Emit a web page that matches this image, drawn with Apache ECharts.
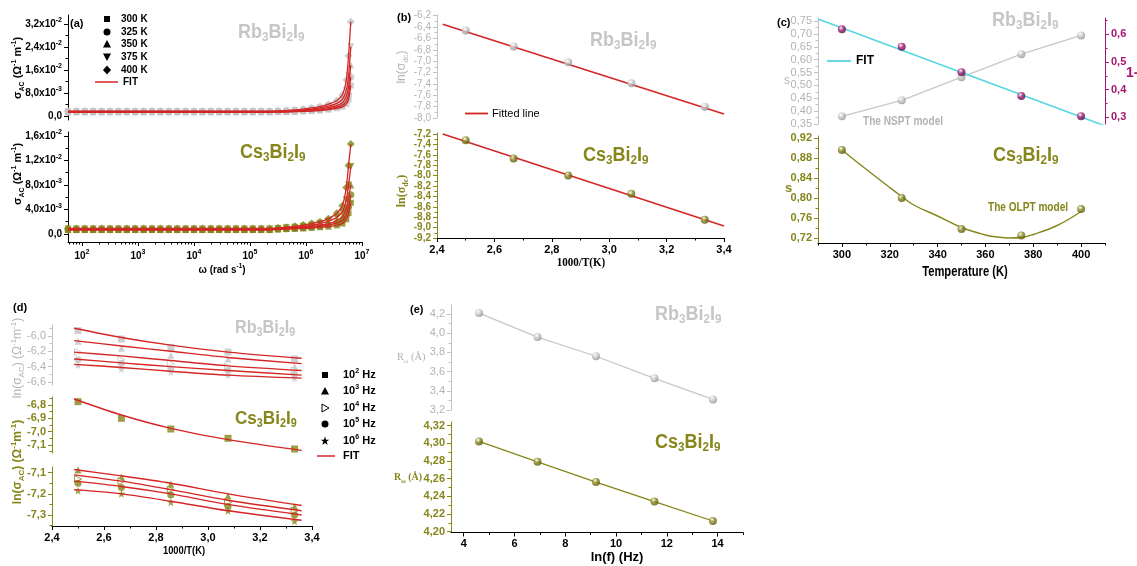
<!DOCTYPE html>
<html>
<head>
<meta charset="utf-8">
<title>Rb3Bi2I9 / Cs3Bi2I9</title>
<script src="https://cdn.jsdelivr.net/npm/echarts@6/dist/echarts.min.js"></script>
<style>
html,body{margin:0;padding:0;background:#ffffff;}
#chart{width:1137px;height:566px;}
</style>
</head>
<body>
<div id="chart"></div>
<script>
// ======================= DATA =======================
// (a) sigma_AC vs omega (sigma in units of 1e-3 ohm^-1 m^-1)
const A_TEMPS = ['300 K', '325 K', '350 K', '375 K', '400 K'];
const A_OMEGA = [56.2, 79.4, 112, 158, 224, 316, 447, 631, 891, 1259, 1778, 2512, 3548, 5012, 7079, 10000, 14125, 19953, 28184, 39811, 56234, 79433, 112202, 158489, 223872, 316228, 446684, 630957, 891251, 1258925, 1778279, 2511886, 3548134, 4466836, 5248075, 5754399, 6309573];
const A_RB_300 = [1.3,1.3,1.3,1.3,1.3, 1.3,1.3,1.3,1.3,1.3, 1.3,1.3,1.3,1.3,1.3, 1.3,1.3,1.3,1.3,1.3, 1.3,1.3,1.3,1.3,1.3, 1.35,1.4,1.5,1.6,1.7,1.9,2.2,2.7,3.2,4.2,5.8,10.6];
const A_RB_325 = [1.4,1.4,1.4,1.4,1.4, 1.4,1.4,1.4,1.4,1.4, 1.4,1.4,1.4,1.4,1.4, 1.4,1.4,1.4,1.4,1.4, 1.4,1.4,1.4,1.4,1.4, 1.45,1.5,1.6,1.7,1.9,2.1,2.5,3.1,3.8,5.2,7.5,13.5];
const A_RB_350 = [1.5,1.5,1.5,1.5,1.5, 1.5,1.5,1.5,1.5,1.5, 1.5,1.5,1.5,1.5,1.5, 1.5,1.5,1.5,1.5,1.5, 1.5,1.5,1.5,1.5,1.5, 1.55,1.6,1.7,1.9,2.1,2.4,2.9,3.6,4.6,6.8,10.2,17.7];
const A_RB_375 = [1.6,1.6,1.6,1.6,1.6, 1.6,1.6,1.6,1.6,1.6, 1.6,1.6,1.6,1.6,1.6, 1.6,1.6,1.6,1.6,1.6, 1.6,1.6,1.6,1.6,1.6, 1.65,1.75,1.9,2.1,2.4,2.8,3.4,4.4,5.8,9.0,14.0,24.1];
const A_RB_400 = [1.7,1.7,1.7,1.7,1.7, 1.7,1.7,1.7,1.7,1.7, 1.7,1.7,1.7,1.7,1.7, 1.7,1.7,1.7,1.7,1.7, 1.7,1.7,1.7,1.7,1.7, 1.8,1.9,2.1,2.4,2.8,3.3,4.1,5.4,7.4,12.5,21.0,32.8];
const A_CS_300 = [0.65,0.65,0.65,0.65,0.65, 0.65,0.65,0.65,0.65,0.65, 0.65,0.65,0.65,0.65,0.65, 0.65,0.65,0.65,0.65,0.65, 0.65,0.65,0.65,0.65,0.65, 0.75,0.8,0.85,0.9,1.0,1.1,1.2,1.4,1.7,2.4,3.4,5.1];
const A_CS_325 = [0.7,0.7,0.7,0.7,0.7, 0.7,0.7,0.7,0.7,0.7, 0.7,0.7,0.7,0.7,0.7, 0.7,0.7,0.7,0.7,0.7, 0.7,0.7,0.7,0.7,0.7, 0.8,0.85,0.9,1.0,1.1,1.25,1.45,1.8,2.2,3.2,4.4,6.4];
const A_CS_350 = [0.75,0.75,0.75,0.75,0.75, 0.75,0.75,0.75,0.75,0.75, 0.75,0.75,0.75,0.75,0.75, 0.75,0.75,0.75,0.75,0.75, 0.75,0.75,0.75,0.75,0.75, 0.85,0.9,1.0,1.1,1.25,1.45,1.7,2.2,2.8,4.2,5.8,8.0];
const A_CS_375 = [0.8,0.8,0.8,0.8,0.8, 0.8,0.8,0.8,0.8,0.8, 0.8,0.8,0.8,0.8,0.8, 0.8,0.8,0.8,0.8,0.8, 0.8,0.8,0.8,0.8,0.8, 0.9,1.0,1.1,1.25,1.45,1.7,2.1,2.7,3.6,5.6,8.0,11.0];
const A_CS_400 = [0.9,0.9,0.9,0.9,0.9, 0.9,0.9,0.9,0.9,0.9, 0.9,0.9,0.9,0.9,0.9, 0.9,0.9,0.9,0.9,0.9, 0.9,0.9,0.9,0.9,0.9, 1.0,1.1,1.25,1.45,1.7,2.0,2.5,3.4,4.6,7.6,11.2,14.7];

// (b) ln(sigma_dc) vs 1000/T
const B_X = [2.5, 2.667, 2.857, 3.077, 3.333];
const B_RB = [-6.46, -6.74, -7.02, -7.39, -7.80];
const B_CS = [-7.32, -7.67, -8.00, -8.35, -8.85];
const B_FIT_X = [2.42, 3.4];
const B_RB_FIT = [-6.35, -7.93];
const B_CS_FIT = [-7.20, -8.97];

// (c) s and 1-s vs temperature
const C_T = [300, 325, 350, 375, 400];
const C_RB_S = [0.380, 0.442, 0.532, 0.621, 0.694];
const C_RB_1MS = [0.618, 0.555, 0.463, 0.377, 0.304];
const C_FIT_T = [290, 410];
const C_FIT_1MS = [0.655, 0.269];
const C_CS_S = [0.896, 0.800, 0.738, 0.725, 0.778];
const C_CS_FIT_T = [300, 310, 320, 325, 330, 340, 350, 360, 365, 370, 375, 380, 390, 400];
const C_CS_FIT_S = [0.896, 0.858, 0.821, 0.803, 0.786, 0.764, 0.741, 0.726, 0.722, 0.720, 0.721, 0.727, 0.745, 0.773];

// (d) ln(sigma_AC) vs 1000/T at several frequencies
const D_FREQS = ['2', '3', '4', '5', '6'];
const D_X = [2.5, 2.667, 2.857, 3.077, 3.333];
const D_RB_1E2 = [-5.93, -6.04, -6.15, -6.21, -6.30];
const D_RB_1E3 = [-6.07, -6.16, -6.25, -6.30, -6.40];
const D_RB_1E4 = [-6.21, -6.31, -6.36, -6.40, -6.45];
const D_RB_1E5 = [-6.31, -6.36, -6.43, -6.45, -6.50];
const D_RB_1E6 = [-6.38, -6.43, -6.47, -6.51, -6.55];
const D_FIT_X = [2.485, 2.667, 2.857, 3.077, 3.36];
const D_RB_FIT_1E2 = [-5.90, -6.02, -6.12, -6.21, -6.29];
const D_RB_FIT_1E3 = [-6.06, -6.13, -6.20, -6.28, -6.36];
const D_RB_FIT_1E4 = [-6.21, -6.26, -6.32, -6.39, -6.45];
const D_RB_FIT_1E5 = [-6.30, -6.35, -6.40, -6.45, -6.51];
const D_RB_FIT_1E6 = [-6.37, -6.41, -6.46, -6.51, -6.55];
const D_CS_1E2 = [-6.775, -6.90, -6.98, -7.05, -7.13];
const D_CS_1E3 = [-7.087, -7.12, -7.155, -7.21, -7.26];
const D_CS_1E4 = [-7.13, -7.14, -7.18, -7.24, -7.28];
const D_CS_1E5 = [-7.15, -7.17, -7.205, -7.26, -7.30];
const D_CS_1E6 = [-7.185, -7.20, -7.24, -7.28, -7.33];
const D_CS_FIT_1E2 = [-6.755, -6.875, -6.975, -7.06, -7.14];
const D_CS_FIT_1E3 = [-7.085, -7.115, -7.15, -7.20, -7.255];
const D_CS_FIT_1E4 = [-7.11, -7.14, -7.18, -7.23, -7.28];
const D_CS_FIT_1E5 = [-7.14, -7.165, -7.20, -7.25, -7.30];
const D_CS_FIT_1E6 = [-7.18, -7.20, -7.235, -7.28, -7.325];

// (e) R_omega vs ln(f)
const E_LNF = [4.605, 6.908, 9.210, 11.513, 13.816];
const E_RB = [4.21, 3.96, 3.76, 3.53, 3.31];
const E_CS = [4.302, 4.279, 4.256, 4.234, 4.212];

// ======================= STYLE =======================
const FONT = '"Liberation Sans", Arial, sans-serif';
const SERIF = '"Liberation Serif", "Times New Roman", serif';
const GREY = '#c3c3c3', GREYT = '#b3b3b3', OLIVE = '#86861b', OLIVE_D = '#55550a';
const RED = '#d42626', CYAN = '#55d6e4', PURPLE = '#a3176f', BLACK = '#111111';

function rng(a, b, s, d) { const out = []; for (let v = a; v <= b + s / 1000; v += s) out.push(+v.toFixed(d)); return out; }
function comma(d) { return v => v.toFixed(d).replace('.', ','); }
function pts(xs, ys) { return xs.map((x, i) => [x, ys[i]]); }
function sphere(base, dark) {
  return new echarts.graphic.RadialGradient(0.38, 0.32, 0.72, [
    { offset: 0, color: '#ffffff' }, { offset: 0.45, color: base }, { offset: 1, color: dark }]);
}

const grids = [
  { left: 68, top: 15, width: 294, height: 105 },   // 0 a top
  { left: 68, top: 132, width: 294, height: 110 },  // 1 a bottom
  { left: 437, top: 15, width: 287, height: 103 },  // 2 b top
  { left: 437, top: 133, width: 287, height: 105 }, // 3 b bottom
  { left: 818, top: 18, width: 287, height: 106 },  // 4 c top
  { left: 818, top: 136, width: 287, height: 107 }, // 5 c bottom
  { left: 52, top: 325, width: 260, height: 60 },   // 6 d top
  { left: 52, top: 397, width: 260, height: 56 },   // 7 d middle
  { left: 52, top: 467, width: 260, height: 59 },   // 8 d bottom
  { left: 451, top: 305, width: 292, height: 105 }, // 9 e top
  { left: 451, top: 422, width: 292, height: 110.5 }// 10 e bottom
].map(g => Object.assign({ outerBoundsMode: 'none', containLabel: false }, g));

const xAxes = [], yAxes = [], series = [], graphics = [];

function mkAxis(list, o) {
  const type = o.type || 'value';
  if (o.show === false) {
    list.push({ type, gridIndex: o.grid, min: o.min, max: o.max, show: false, position: o.pos,
      axisLine: { onZero: false }, splitLine: { show: false } });
    return list.length - 1;
  }
  const main = {
    type, gridIndex: o.grid, min: o.min, max: o.max, position: o.pos,
    axisLine: { show: true, onZero: false, lineStyle: { color: o.color, width: 1 } },
    axisTick: { show: true, customValues: o.majors, length: 4, lineStyle: { color: o.color, width: 1 } },
    axisLabel: { show: true, customValues: o.majors, formatter: o.fmt, color: o.lc || o.color,
      fontSize: o.fs || 10, fontWeight: o.bold ? 'bold' : 'normal', fontFamily: o.ff || FONT,
      margin: o.margin || 6, rich: o.rich },
    splitLine: { show: false }
  };
  if (type === 'log') main.logBase = 10;
  list.push(main);
  const idx = list.length - 1;
  if (o.minors) {
    const mn = { type, gridIndex: o.grid, min: o.min, max: o.max, position: o.pos,
      axisLine: { show: false, onZero: false },
      axisTick: { show: true, customValues: o.minors, length: 2.5, lineStyle: { color: o.color, width: 1 } },
      axisLabel: { show: false }, splitLine: { show: false } };
    if (type === 'log') mn.logBase = 10;
    list.push(mn);
  }
  return idx;
}

function richSet(size, color, bold, ff) {
  const w = bold ? 'bold' : 'normal', f = ff || FONT;
  const s = Math.round(size * 0.65);
  return {
    m: { fontSize: size, fill: color, color, fontWeight: w, fontFamily: f, lineHeight: size + 4 },
    b: { fontSize: s, fill: color, color, fontWeight: w, fontFamily: f, lineHeight: s, verticalAlign: 'bottom' },
    p: { fontSize: s, fill: color, color, fontWeight: w, fontFamily: f, lineHeight: s, verticalAlign: 'top' }
  };
}

// ---- axes ----
const A_XMAJ = [1e2, 1e3, 1e4, 1e5, 1e6, 1e7];
const A_XMIN = [];
for (let n = 1; n <= 6; n++) for (let k = 2; k <= 9; k++) { const v = k * Math.pow(10, n); if (v >= 56.3 && v < 1e7) A_XMIN.push(v); }
const expFmt = v => '{m|10}{p|' + Math.round(Math.log10(v)) + '}';
const sciFmt = v => {
  if (Math.abs(v) < 1e-9) return '{m|0,0}';
  const e = v >= 10 ? -2 : -3;
  const mant = v * Math.pow(10, -3 - e);
  return '{m|' + mant.toFixed(1).replace('.', ',') + 'x10}{p|' + e + '}';
};
const richA = { m: { fontSize: 10, fontWeight: 'bold', color: '#000', fontFamily: FONT, lineHeight: 14 },
  p: { fontSize: 7, fontWeight: 'bold', color: '#000', fontFamily: FONT, lineHeight: 7, verticalAlign: 'top' } };

const X = {}, Y = {};
X.aT = mkAxis(xAxes, { grid: 0, type: 'log', min: 56.23, max: 1e7, show: false });
X.aB = mkAxis(xAxes, { grid: 1, type: 'log', min: 56.23, max: 1e7, pos: 'bottom', majors: A_XMAJ, minors: A_XMIN,
  color: '#000', bold: true, fmt: expFmt, rich: richA, margin: 7 });
X.bT = mkAxis(xAxes, { grid: 2, min: 2.4, max: 3.4, show: false });
X.bB = mkAxis(xAxes, { grid: 3, min: 2.4, max: 3.4, pos: 'bottom', majors: rng(2.4, 3.4, 0.2, 1), minors: rng(2.5, 3.3, 0.2, 1),
  color: '#000', bold: true, fs: 11, fmt: comma(1) });
X.cT = mkAxis(xAxes, { grid: 4, min: 290, max: 410, show: false });
X.cB = mkAxis(xAxes, { grid: 5, min: 290, max: 410, pos: 'bottom', majors: rng(300, 400, 20, 0), minors: rng(290, 410, 20, 0),
  color: '#000', bold: true, fs: 11, fmt: v => String(Math.round(v)) });
X.dT = mkAxis(xAxes, { grid: 6, min: 2.4, max: 3.4, show: false });
X.dM = mkAxis(xAxes, { grid: 7, min: 2.4, max: 3.4, show: false });
X.dB = mkAxis(xAxes, { grid: 8, min: 2.4, max: 3.4, pos: 'bottom', majors: rng(2.4, 3.4, 0.2, 1), minors: rng(2.5, 3.3, 0.2, 1),
  color: '#000', bold: true, fs: 11, fmt: comma(1) });
X.eT = mkAxis(xAxes, { grid: 9, min: 3.5, max: 15, show: false });
X.eB = mkAxis(xAxes, { grid: 10, min: 3.5, max: 15, pos: 'bottom', majors: rng(4, 14, 2, 0), minors: rng(5, 15, 2, 0),
  color: '#000', bold: true, fs: 11, fmt: v => String(Math.round(v)) });

Y.aT = mkAxis(yAxes, { grid: 0, min: -1.39, max: 35.13, pos: 'left', majors: [0, 8, 16, 24, 32], minors: [4, 12, 20, 28],
  color: '#000', bold: true, fmt: sciFmt, rich: richA });
Y.aB = mkAxis(yAxes, { grid: 1, min: -1.31, max: 16.65, pos: 'left', majors: [0, 4, 8, 12, 16], minors: [2, 6, 10, 14],
  color: '#000', bold: true, fmt: sciFmt, rich: richA });
Y.bT = mkAxis(yAxes, { grid: 2, min: -8.0, max: -6.188, pos: 'left', majors: rng(-8.0, -6.2, 0.2, 1), minors: rng(-7.9, -6.3, 0.2, 1),
  color: GREY, lc: GREYT, fs: 10, fmt: comma(1) });
Y.bB = mkAxis(yAxes, { grid: 3, min: -9.2, max: -7.181, pos: 'left', majors: rng(-9.2, -7.2, 0.2, 1), minors: rng(-9.1, -7.3, 0.2, 1),
  color: OLIVE, bold: true, fs: 10, fmt: comma(1) });
Y.cT = mkAxis(yAxes, { grid: 4, min: 0.35, max: 0.7617, pos: 'left', majors: rng(0.35, 0.75, 0.05, 2), minors: rng(0.375, 0.725, 0.05, 3),
  color: GREY, lc: GREYT, fs: 11, fmt: comma(2) });
Y.cR = mkAxis(yAxes, { grid: 4, min: 0.2758, max: 0.6589, pos: 'right', majors: [0.3, 0.4, 0.5, 0.6], minors: [0.35, 0.45, 0.55, 0.65],
  color: PURPLE, bold: true, fs: 11, fmt: comma(1) });
Y.cB = mkAxis(yAxes, { grid: 5, min: 0.71, max: 0.924, pos: 'left', majors: rng(0.72, 0.92, 0.04, 2), minors: rng(0.74, 0.90, 0.04, 2),
  color: OLIVE, bold: true, fs: 11, fmt: comma(2) });
Y.dT = mkAxis(yAxes, { grid: 6, min: -6.639, max: -5.857, pos: 'left', majors: [-6.6, -6.4, -6.2, -6.0], minors: [-6.5, -6.3, -6.1, -5.9],
  color: GREY, lc: GREYT, fs: 11, fmt: comma(1) });
Y.dM = mkAxis(yAxes, { grid: 7, min: -7.16, max: -6.74, pos: 'left', majors: [-7.1, -7.0, -6.9, -6.8], minors: [-7.15, -7.05, -6.95, -6.85, -6.75],
  color: OLIVE, bold: true, fs: 11, fmt: comma(1) });
Y.dB = mkAxis(yAxes, { grid: 8, min: -7.352, max: -7.073, pos: 'left', majors: [-7.3, -7.2, -7.1], minors: [-7.35, -7.25, -7.15],
  color: OLIVE, bold: true, fs: 11, fmt: comma(1) });
Y.eT = mkAxis(yAxes, { grid: 9, min: 3.2, max: 4.294, pos: 'left', majors: rng(3.2, 4.2, 0.2, 1), minors: rng(3.3, 4.1, 0.2, 1),
  color: GREY, lc: GREYT, fs: 11, fmt: comma(1) });
Y.eB = mkAxis(yAxes, { grid: 10, min: 4.199, max: 4.324, pos: 'left', majors: rng(4.20, 4.32, 0.02, 2), minors: rng(4.21, 4.31, 0.02, 2),
  color: OLIVE, bold: true, fs: 11, fmt: comma(2) });

// ---- series helpers ----
function scat(xi, yi, data, symbol, size, itemStyle, rot, z) {
  series.push({ type: 'scatter', xAxisIndex: xi, yAxisIndex: yi, data, symbol, symbolSize: size,
    symbolRotate: rot || 0, itemStyle, silent: true, z: z || 3, animation: false });
}
function line(xi, yi, data, color, width, smooth, z) {
  series.push({ type: 'line', xAxisIndex: xi, yAxisIndex: yi, data, symbol: 'none', showSymbol: false,
    lineStyle: { color, width }, smooth: smooth || false, silent: true, z: z || 2, animation: false });
}
const STAR = 'path://M12,0 L14.9,8.4 L24,8.6 L16.8,14 L19.4,22.8 L12,17.6 L4.6,22.8 L7.2,14 L0,8.6 L9.1,8.4 Z';

// (a)
const A_RB = [A_RB_300, A_RB_325, A_RB_350, A_RB_375, A_RB_400];
const A_CS = [A_CS_300, A_CS_325, A_CS_350, A_CS_375, A_CS_400];
const A_SYM = ['rect', 'circle', 'triangle', 'triangle', 'diamond'];
const A_ROT = [0, 0, 0, 180, 0];
const A_SIZE = [6, 7, 7, 7, 8];
A_RB.forEach((ys, i) => scat(X.aT, Y.aT, pts(A_OMEGA, ys), A_SYM[i], A_SIZE[i], { color: GREY }, A_ROT[i], 3));
A_CS.forEach((ys, i) => scat(X.aB, Y.aB, pts(A_OMEGA, ys), A_SYM[i], A_SIZE[i], { color: OLIVE }, A_ROT[i], 3));
A_RB.forEach(ys => line(X.aT, Y.aT, pts(A_OMEGA, ys), RED, 1.3, 0.2, 4));
A_CS.forEach(ys => line(X.aB, Y.aB, pts(A_OMEGA, ys), RED, 1.3, 0.2, 4));

// (b)
line(X.bT, Y.bT, pts(B_FIT_X, B_RB_FIT), RED, 1.6, false, 2);
line(X.bB, Y.bB, pts(B_FIT_X, B_CS_FIT), RED, 1.6, false, 2);
scat(X.bT, Y.bT, pts(B_X, B_RB), 'circle', 8, { color: sphere('#c8c8c8', '#8c8c8c') }, 0, 3);
scat(X.bB, Y.bB, pts(B_X, B_CS), 'circle', 8, { color: sphere(OLIVE, OLIVE_D) }, 0, 3);

// (c)
line(X.cT, Y.cT, pts(C_T, C_RB_S), '#c8c8c8', 1.3, false, 2);
scat(X.cT, Y.cT, pts(C_T, C_RB_S), 'circle', 8, { color: sphere('#c8c8c8', '#8c8c8c') }, 0, 3);
line(X.cT, Y.cR, pts(C_FIT_T, C_FIT_1MS), CYAN, 1.6, false, 4);
scat(X.cT, Y.cR, pts(C_T, C_RB_1MS), 'circle', 8, { color: sphere(PURPLE, '#4a0a40') }, 0, 5);
line(X.cB, Y.cB, pts(C_CS_FIT_T, C_CS_FIT_S), OLIVE, 1.4, 0.4, 2);
scat(X.cB, Y.cB, pts(C_T, C_CS_S), 'circle', 8, { color: sphere(OLIVE, OLIVE_D) }, 0, 3);

// (d)
const D_SYM = ['rect', 'triangle', 'triangle', 'circle', STAR];
const D_ROT = [0, 0, -90, 0, 0];
const D_SIZE = [7, 7, 7, 7, 8];
const D_RB = [D_RB_1E2, D_RB_1E3, D_RB_1E4, D_RB_1E5, D_RB_1E6];
const D_RB_FIT = [D_RB_FIT_1E2, D_RB_FIT_1E3, D_RB_FIT_1E4, D_RB_FIT_1E5, D_RB_FIT_1E6];
D_RB.forEach((ys, i) => scat(X.dT, Y.dT, pts(D_X, ys), D_SYM[i], D_SIZE[i],
  i === 2 ? { color: '#ffffff', borderColor: GREY, borderWidth: 1 } : { color: GREY }, D_ROT[i], 3));
D_RB_FIT.forEach(ys => line(X.dT, Y.dT, pts(D_FIT_X, ys), RED, 1.4, 0.3, 4));
scat(X.dM, Y.dM, pts(D_X, D_CS_1E2), 'rect', 7, { color: OLIVE }, 0, 3);
line(X.dM, Y.dM, pts(D_FIT_X, D_CS_FIT_1E2), RED, 1.4, 0.3, 4);
const D_CS = [D_CS_1E3, D_CS_1E4, D_CS_1E5, D_CS_1E6];
const D_CS_FIT = [D_CS_FIT_1E3, D_CS_FIT_1E4, D_CS_FIT_1E5, D_CS_FIT_1E6];
D_CS.forEach((ys, j) => { const i = j + 1; scat(X.dB, Y.dB, pts(D_X, ys), D_SYM[i], D_SIZE[i],
  i === 2 ? { color: '#ffffff', borderColor: OLIVE, borderWidth: 1 } : { color: OLIVE }, D_ROT[i], 3); });
D_CS_FIT.forEach(ys => line(X.dB, Y.dB, pts(D_FIT_X, ys), RED, 1.4, 0.3, 4));

// (e)
line(X.eT, Y.eT, pts(E_LNF, E_RB), '#c8c8c8', 1.3, false, 2);
scat(X.eT, Y.eT, pts(E_LNF, E_RB), 'circle', 8, { color: sphere('#c8c8c8', '#8c8c8c') }, 0, 3);
line(X.eB, Y.eB, pts(E_LNF, E_CS), OLIVE, 1.3, false, 2);
scat(X.eB, Y.eB, pts(E_LNF, E_CS), 'circle', 8, { color: sphere(OLIVE, OLIVE_D) }, 0, 3);

// ======================= TEXT / GRAPHICS =======================
function T(x, y, text, o) {
  o = o || {};
  graphics.push({ type: 'text', x, y, rotation: o.rot || 0, scaleX: o.sx || 1, silent: true, z: 100,
    style: { text, fill: o.color || '#000', fontSize: o.fs || 11, fontWeight: o.bold ? 'bold' : 'normal',
      fontFamily: o.ff || FONT, align: o.align || 'left', verticalAlign: o.va || 'middle', rich: o.rich } });
}
function formula(x, capTop, parts, color, size) {
  size = size || 20;
  T(x, capTop - 5, '{m|' + parts[0] + '}{b|3}{m|Bi}{b|2}{m|I}{b|9}', { rich: richSet(size, color, true), va: 'top', color, sx: 0.9 });
}
formula(238, 25, ['Rb'], '#c6c6c6');
formula(240, 145, ['Cs'], OLIVE);
formula(590, 33, ['Rb'], '#c6c6c6');
formula(583, 148, ['Cs'], OLIVE);
formula(992, 13, ['Rb'], '#c6c6c6');
formula(993, 148, ['Cs'], OLIVE);
formula(235, 322, ['Rb'], '#c6c6c6', 18);
formula(235, 412, ['Cs'], OLIVE, 19);
formula(655, 307, ['Rb'], '#c6c6c6');
formula(655, 435, ['Cs'], OLIVE);

// panel labels
T(70, 24, '(a)', { bold: true, fs: 11 });
T(397, 18, '(b)', { bold: true, fs: 11 });
T(777, 23, '(c)', { bold: true, fs: 11 });
T(13, 308, '(d)', { bold: true, fs: 11 });
T(410, 310, '(e)', { bold: true, fs: 11 });

// axis titles
const sigAC = '{m|σ}{b|AC}{m| (Ω}{p|-1}{m| m}{p|-1}{m|)}';
T(18, 68, sigAC, { rot: Math.PI / 2, align: 'center', rich: richSet(11, '#000', true) });
T(18, 174, sigAC, { rot: Math.PI / 2, align: 'center', rich: richSet(11, '#000', true) });
T(222, 270, '{m|ω (rad s}{p|-1}{m|)}', { align: 'center', rich: richSet(11, '#000', true), sx: 0.9 });
T(402, 67, '{m|ln(σ}{b|dc}{m|)}', { rot: Math.PI / 2, align: 'center', rich: richSet(12, GREYT, false) });
T(402, 191, '{m|ln(σ}{b|dc}{m|)}', { rot: Math.PI / 2, align: 'center', rich: richSet(12, OLIVE, true, SERIF) });
T(581, 263, '1000/T(K)', { align: 'center', bold: true, fs: 12, ff: SERIF, sx: 0.92 });
T(784, 81, 's', { color: GREYT, fs: 12 });
T(785, 188, 's', { color: OLIVE, fs: 13, bold: true });
T(1126, 73, '1-s', { color: PURPLE, fs: 14, bold: true });
T(965, 272, 'Temperature (K)', { align: 'center', bold: true, fs: 14, sx: 0.8 });
T(863, 122, 'The NSPT model', { color: GREYT, bold: true, fs: 12, sx: 0.84 });
T(988, 208, 'The OLPT model', { color: OLIVE, bold: true, fs: 12, sx: 0.84 });
const lnAC = '{m|ln(σ}{b|AC}{m|) (Ω}{p|-1}{m|m}{p|-1}{m|)}';
T(18, 358, lnAC, { rot: Math.PI / 2, align: 'center', rich: richSet(12, GREYT, false) });
T(18, 462, lnAC, { rot: Math.PI / 2, align: 'center', rich: richSet(12, OLIVE, true) });
T(184, 551, '1000/T(K)', { align: 'center', bold: true, fs: 11, sx: 0.85 });
T(397, 357, '{m|R}{b|ω}{m| (Å)}', { rich: richSet(11, GREYT, false, SERIF), sx: 0.95 });
T(394, 477, '{m|R}{b|ω}{m| (Å)}', { rich: richSet(11, OLIVE, true, SERIF), sx: 0.9 });
T(617, 557, 'ln(f) (Hz)', { align: 'center', bold: true, fs: 13 });

// legends
function sym(kind, cx, cy, color, open) {
  const st = open ? { fill: '#fff', stroke: color, lineWidth: 1 } : { fill: color };
  if (kind === 'rect') graphics.push({ type: 'rect', shape: { x: cx - 3, y: cy - 3, width: 6, height: 6 }, style: st, silent: true, z: 100 });
  else if (kind === 'circle') graphics.push({ type: 'circle', shape: { cx, cy, r: 3.5 }, style: st, silent: true, z: 100 });
  else if (kind === 'up') graphics.push({ type: 'polygon', shape: { points: [[cx, cy - 4], [cx - 4, cy + 3.5], [cx + 4, cy + 3.5]] }, style: st, silent: true, z: 100 });
  else if (kind === 'down') graphics.push({ type: 'polygon', shape: { points: [[cx - 4, cy - 3.5], [cx + 4, cy - 3.5], [cx, cy + 4]] }, style: st, silent: true, z: 100 });
  else if (kind === 'right') graphics.push({ type: 'polygon', shape: { points: [[cx - 3, cy - 4], [cx - 3, cy + 4], [cx + 4, cy]] }, style: st, silent: true, z: 100 });
  else if (kind === 'diamond') graphics.push({ type: 'polygon', shape: { points: [[cx, cy - 4.5], [cx + 4, cy], [cx, cy + 4.5], [cx - 4, cy]] }, style: st, silent: true, z: 100 });
  else if (kind === 'star') graphics.push({ type: 'polygon', shape: { points: [[cx, cy - 4.5], [cx + 1.1, cy - 1.3], [cx + 4.3, cy - 1.3], [cx + 1.7, cy + 0.6], [cx + 2.7, cy + 4], [cx, cy + 2], [cx - 2.7, cy + 4], [cx - 1.7, cy + 0.6], [cx - 4.3, cy - 1.3], [cx - 1.1, cy - 1.3]] }, style: st, silent: true, z: 100 });
}
function hline(x1, x2, y, color, w) {
  graphics.push({ type: 'line', shape: { x1, y1: y, x2, y2: y }, style: { stroke: color, lineWidth: w || 1.5 }, silent: true, z: 100 });
}
// (a) legend
const A_LEG_SYM = ['rect', 'circle', 'up', 'down', 'diamond'];
const A_LEG_Y = [19, 32, 44, 57, 70];
A_TEMPS.forEach((t, i) => { sym(A_LEG_SYM[i], 107, A_LEG_Y[i], '#000'); T(121, A_LEG_Y[i], t, { bold: true, fs: 10 }); });
hline(95, 118, 82, RED, 1.5); T(123, 82, 'FIT', { bold: true, fs: 10 });
// (b) legend
hline(465, 488, 113.5, RED, 1.8); T(492, 113.5, 'Fitted line', { fs: 11 });
// (c) legend
hline(827, 851, 61, CYAN, 1.8); T(856, 61, 'FIT', { bold: true, fs: 12 });
// (d) legend
const D_LEG_SYM = ['rect', 'up', 'right', 'circle', 'star'];
const D_LEG_Y = [375, 391, 408, 424, 441];
D_FREQS.forEach((f, i) => {
  sym(D_LEG_SYM[i], 325, D_LEG_Y[i], '#000', i === 2);
  T(343, D_LEG_Y[i], '{m|10}{p|' + f + '}{m| Hz}', { rich: richSet(11, '#000', true) });
});
hline(317, 335, 456, RED, 1.5); T(343, 456, 'FIT', { bold: true, fs: 11 });

const chart = echarts.init(document.getElementById('chart'), null, { renderer: 'canvas' });
chart.setOption({
  animation: false,
  backgroundColor: '#ffffff',
  grid: grids,
  xAxis: xAxes,
  yAxis: yAxes,
  series,
  graphic: graphics
});
</script>
</body>
</html>
